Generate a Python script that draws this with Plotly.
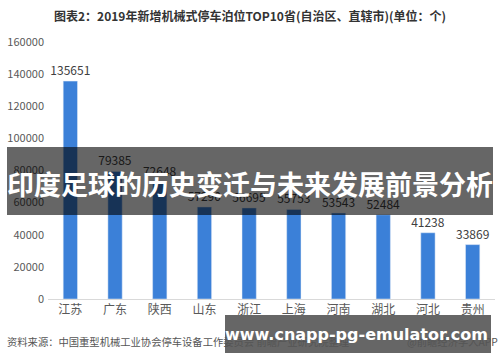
import plotly.graph_objects as go

provinces = ["江苏", "广东", "陕西", "山东", "浙江", "上海", "河南", "湖北", "河北", "贵州"]
values = [135651, 79385, 72648, 57290, 56695, 55753, 53543, 52484, 41238, 33869]
y_ticks = [0, 20000, 40000, 60000, 80000, 100000, 120000, 140000, 160000]

title_text = "图表2：2019年新增机械式停车泊位TOP10省(自治区、直辖市)(单位：个)"
source_text = "资料来源：中国重型机械工业协会停车设备工作委员会 前瞻产业研究院整理"
credit_text = "@前瞻经济学人APP"
banner_text = "印度足球的历史变迁与未来发展前景分析"
url_text = "www.cnapp-pg-emulator.com"

W, H = 500, 362
L, R, T, B = 48, 5, 42, 63
PW, PH = W - L - R, H - T - B

def px(x):
    return (x - L) / PW

def py(y):
    return (H - B - y) / PH

FONT = "Noto Sans CJK SC"

fig = go.Figure()
fig.add_trace(go.Bar(
    x=provinces, y=values,
    marker_color="#3b80d8",
    width=0.32,
    text=[str(v) for v in values],
    textposition="outside",
    constraintext="none",
    textfont=dict(family=FONT, size=12, color="#404040"),
    cliponaxis=False,
))

fig.update_layout(
    width=W, height=H,
    margin=dict(l=L, r=R, t=T, b=B),
    paper_bgcolor="white", plot_bgcolor="white",
    showlegend=False,
    font=dict(family=FONT),
    xaxis=dict(
        showgrid=False, showline=True, linecolor="#d9d9d9", linewidth=1,
        tickfont=dict(family=FONT, size=12, color="#595959"),
        ticks="", fixedrange=True,
    ),
    yaxis=dict(
        range=[0, 160000], tickvals=y_ticks,
        ticktext=[str(v) for v in y_ticks],
        showgrid=False, zeroline=False, showline=False,
        tickfont=dict(family=FONT, size=11, color="#595959"),
        ticklabelstandoff=3,
    ),
)

annotations = [
    dict(text="<b>" + title_text + "</b>", x=px(250), y=py(16), xref="paper", yref="paper",
         showarrow=False, font=dict(family=FONT, size=12, color="#333333"),
         xanchor="center", yanchor="middle"),
    dict(text=source_text, x=px(5), y=py(341), xref="paper", yref="paper",
         showarrow=False, font=dict(family=FONT, size=10.3, color="#555555"),
         xanchor="left", yanchor="middle"),
    dict(text=credit_text, x=px(500), y=py(341), xref="paper", yref="paper",
         showarrow=False, font=dict(family=FONT, size=10.3, color="#555555"),
         xanchor="right", yanchor="middle"),
    dict(text="<b>" + banner_text + "</b>", x=px(250), y=py(183), xref="paper", yref="paper",
         showarrow=False, font=dict(family=FONT, size=27, color="white"),
         xanchor="center", yanchor="middle"),
    dict(text="<b>" + url_text + "</b>", x=px(356), y=py(334), xref="paper", yref="paper",
         showarrow=False, font=dict(family="DejaVu Sans", size=16, color="white"),
         xanchor="center", yanchor="middle"),
]

shapes = [
    dict(type="rect", xref="paper", yref="paper",
         x0=px(7), x1=px(493), y0=py(215), y1=py(147),
         fillcolor="rgba(0,0,0,0.6)", line=dict(width=0), layer="above"),
    dict(type="rect", xref="paper", yref="paper",
         x0=px(225), x1=px(491), y0=py(353), y1=py(315),
         fillcolor="rgba(0,0,0,0.6)", line=dict(width=0), layer="above"),
]

fig.update_layout(annotations=annotations, shapes=shapes)
fig.write_html("out.html", config={"displayModeBar": False},
               post_script="document.body.style.margin='0';document.body.style.overflow='hidden';")
